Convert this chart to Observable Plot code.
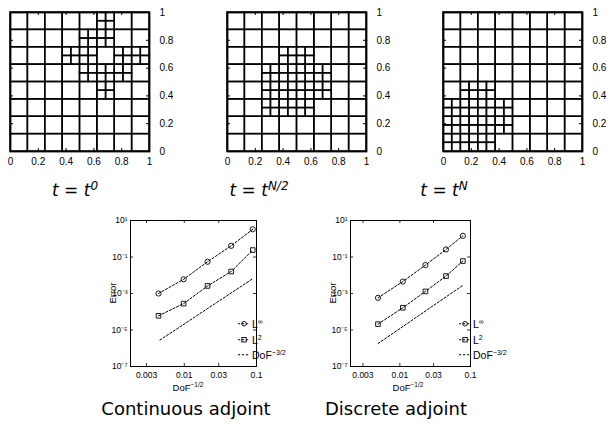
<!DOCTYPE html>
<html><head><meta charset="utf-8">
<script src="https://cdn.jsdelivr.net/npm/d3@7"></script>
<script src="https://cdn.jsdelivr.net/npm/@observablehq/plot@0.6"></script>
<style>
body{margin:0;background:#fff;}
#fig{position:relative;width:609px;height:425px;overflow:hidden;background:#fff;font-family:"Liberation Sans",Arial,sans-serif;color:#000;}
#fig svg{position:absolute;overflow:visible;}
.lbl{position:absolute;white-space:nowrap;line-height:1;transform:translate(-50%,-50%);}
.title{font-family:"DejaVu Sans",sans-serif;font-size:17px;}
.title i{font-style:oblique;}
.title sup{font-size:12px;vertical-align:0.45em;line-height:0;}
.cap{font-family:"DejaVu Sans",sans-serif;font-size:18px;}
.small{font-size:9.5px;}
.small sup{font-size:6.5px;vertical-align:0.6em;line-height:0;}
.leg{position:absolute;white-space:nowrap;font-size:10.5px;line-height:1;display:flex;align-items:center;transform:translateY(-50%);}
.leg sup{font-size:7px;vertical-align:0.6em;line-height:0;}
.leg svg{position:static !important;margin-right:2px;}
</style></head><body><div id="fig"></div><script>
// ---------- data ----------
const meshBase = 8;
const refinedT0 = [[5,7],[4,6],[5,6],[3,5],[4,5],[6,5],[7,5],[4,4],[5,4],[6,4],[5,3]];
const refinedTHalf = [[3,5],[4,5],[2,4],[3,4],[4,4],[5,4],[2,3],[3,3],[4,3],[5,3],[2,2],[3,2],[4,2]];
const refinedTN = [[1,3],[2,3],[0,2],[1,2],[2,2],[3,2],[0,1],[1,1],[2,1],[3,1],[0,0],[1,0],[2,0]];
const gridTicks = [0, 0.2, 0.4, 0.6, 0.8, 1];
const meshTitles = ["0", "N/2", "N"];

const contDof  = [0.0044, 0.0098, 0.021, 0.0446, 0.0887];
const contLinf = [1.0e-3, 6.0e-3, 0.055, 0.41, 3.3];
const contL2   = [6.0e-5, 2.8e-4, 2.6e-3, 0.016, 0.24];
const contRefDof = [0.0046, 0.0887];
const contRef    = [2.8e-6, 6.5e-3];

const discDof  = [0.0049, 0.011, 0.023, 0.045, 0.078];
const discLinf = [5.8e-4, 4.5e-3, 0.036, 0.26, 1.45];
const discL2   = [2.1e-5, 1.65e-4, 1.3e-3, 9.0e-3, 0.06];
const discRefDof = [0.0049, 0.078];
const discRef    = [1.8e-6, 2.8e-3];

const errTicks = [1e1, 1e-1, 1e-3, 1e-5, 1e-7];
const errTickLabels = ["10¹", "10⁻¹", "10⁻³", "10⁻⁵", "10⁻⁷"];
const dofTicks = [0.003, 0.01, 0.03, 0.1];
const dofTickLabels = ["0.003", "0.01", "0.03", "0.1"];
const captions = ["Continuous adjoint", "Discrete adjoint"];

// ---------- helpers ----------
const fig = document.getElementById("fig");
function place(svg, left, top){ svg.style.left = left + "px"; svg.style.top = top + "px"; fig.appendChild(svg); }
function label(html, cls, x, y){ const d = document.createElement("div"); d.className = "lbl " + cls; d.innerHTML = html; d.style.left = x + "px"; d.style.top = y + "px"; fig.appendChild(d); return d; }

function meshCells(refined){
  const set = new Set(refined.map(([i,j]) => i + "," + j));
  const h = 1 / meshBase, cells = [];
  for (let i = 0; i < meshBase; i++) for (let j = 0; j < meshBase; j++) {
    if (set.has(i + "," + j)) {
      for (let a = 0; a < 2; a++) for (let b = 0; b < 2; b++)
        cells.push({x1: i*h + a*h/2, x2: i*h + (a+1)*h/2, y1: j*h + b*h/2, y2: j*h + (b+1)*h/2});
    } else cells.push({x1: i*h, x2: (i+1)*h, y1: j*h, y2: (j+1)*h});
  }
  return cells;
}

function meshPlot(refined, frameLeft, frameTop){
  const W = 139, mL = 10, mT = 12, mR = 40, mB = 22, tk = 3;
  const svg = Plot.plot({
    width: mL + W + mR, height: mT + W + mB,
    marginLeft: mL, marginTop: mT, marginRight: mR, marginBottom: mB,
    x: {domain: [0, 1]}, y: {domain: [0, 1]},
    style: {fontFamily: "Liberation Sans, Arial, sans-serif", fontSize: "10px", background: "transparent"},
    marks: [
      Plot.rect(meshCells(refined), {x1: "x1", x2: "x2", y1: "y1", y2: "y2", stroke: "black", fill: "none", strokeWidth: 1.5}),
      Plot.ruleX(gridTicks, {insetBottom: W - tk, stroke: "black"}),
      Plot.ruleX(gridTicks, {insetTop: W - tk, stroke: "black"}),
      Plot.ruleY(gridTicks, {insetRight: W - tk, stroke: "black"}),
      Plot.ruleY(gridTicks, {insetLeft: W - tk, stroke: "black"}),
      Plot.frame({stroke: "black", strokeWidth: 1.8}),
      Plot.axisX({ticks: gridTicks, tickSize: 0, tickPadding: 6, tickFormat: d => String(d), label: null}),
      Plot.axisY({anchor: "right", ticks: gridTicks, tickSize: 0, tickPadding: 10, tickFormat: d => String(d), label: null})
    ]
  });
  place(svg, frameLeft - mL, frameTop - mT);
}

function errPlot(dof, linf, l2, refDof, ref, xDomain, frameLeft, frameTop, frameW, frameH){
  const mL = 30, mT = 10, mR = 10, mB = 18, tk = 3;
  const rows = (ys) => dof.map((d, i) => ({x: d, y: ys[i]}));
  const refRows = refDof.map((d, i) => ({x: d, y: ref[i]}));
  const dash = "2.2,1.8";
  const svg = Plot.plot({
    width: mL + frameW + mR, height: mT + frameH + mB,
    marginLeft: mL, marginTop: mT, marginRight: mR, marginBottom: mB,
    x: {type: "log", domain: xDomain},
    y: {type: "log", domain: [1e-7, 1e1]},
    style: {fontFamily: "Liberation Sans, Arial, sans-serif", fontSize: "8.5px", background: "transparent"},
    marks: [
      Plot.ruleX(dofTicks, {insetBottom: frameH - tk, stroke: "black", strokeWidth: 0.8}),
      Plot.ruleX(dofTicks, {insetTop: frameH - tk, stroke: "black", strokeWidth: 0.8}),
      Plot.ruleY(errTicks, {insetRight: frameW - tk, stroke: "black", strokeWidth: 0.8}),
      Plot.ruleY(errTicks, {insetLeft: frameW - tk, stroke: "black", strokeWidth: 0.8}),
      Plot.line(rows(linf), {x: "x", y: "y", stroke: "black", strokeWidth: 1, strokeDasharray: dash}),
      Plot.line(rows(l2), {x: "x", y: "y", stroke: "black", strokeWidth: 1, strokeDasharray: dash}),
      Plot.line(refRows, {x: "x", y: "y", stroke: "black", strokeWidth: 1, strokeDasharray: dash}),
      Plot.dot(rows(linf), {x: "x", y: "y", r: 2.6, stroke: "black", fill: "none", strokeWidth: 0.9}),
      Plot.dot(rows(l2), {x: "x", y: "y", symbol: "square", r: 2.6, stroke: "black", fill: "none", strokeWidth: 0.9}),
      Plot.frame({stroke: "black", strokeWidth: 1}),
      Plot.axisX({ticks: dofTicks, tickSize: 0, tickPadding: 5, tickFormat: d => dofTickLabels[dofTicks.indexOf(d)], label: null}),
      Plot.axisY({ticks: errTicks, tickSize: 0, tickPadding: 3, tickFormat: d => errTickLabels[errTicks.indexOf(d)], label: null})
    ]
  });
  place(svg, frameLeft - mL, frameTop - mT);
}

function legend(x, ys){
  const sample = (sym) => {
    let m = "";
    if (sym === "o") m = '<circle cx="6" cy="4" r="2.3" fill="none" stroke="black" stroke-width="0.9"/>';
    if (sym === "s") m = '<rect x="3.8" y="1.8" width="4.4" height="4.4" fill="none" stroke="black" stroke-width="0.9"/>';
    return '<svg width="12" height="8"><line x1="0" y1="4" x2="12" y2="4" stroke="black" stroke-width="1" stroke-dasharray="2.2,1.8"/>' + m + '</svg>';
  };
  const items = [["o", "L<sup>∞</sup>"], ["s", "L<sup>2</sup>"], ["", "DoF<sup>−3/2</sup>"]];
  items.forEach(([s, t], i) => {
    const d = document.createElement("div");
    d.className = "leg"; d.innerHTML = sample(s) + "<span>" + t + "</span>";
    d.style.left = x + "px"; d.style.top = ys[i] + "px";
    fig.appendChild(d);
  });
}

// ---------- meshes ----------
meshPlot(refinedT0, 10, 12);
meshPlot(refinedTHalf, 227, 12);
meshPlot(refinedTN, 443, 12);
const titleX = [75, 259, 444];
meshTitles.forEach((s, i) => label('<i>t</i> = <i>t</i><sup><i>' + s + '</i></sup>', "title", titleX[i], 190));

// ---------- error plots ----------
errPlot(contDof, contLinf, contL2, contRefDof, contRef, [0.0018, 0.1], 130, 220, 126, 146);
errPlot(discDof, discLinf, discL2, discRefDof, discRef, [0.002, 0.1], 350, 220, 120, 146);

[[113, 293], [333, 293]].forEach(([x, y]) => { const d = label("Error", "small", x, y); d.style.transform = "translate(-50%,-50%) rotate(-90deg)"; });
label("DoF<sup>−1/2</sup>", "small", 188, 388);
label("DoF<sup>−1/2</sup>", "small", 408, 388);
legend(238, [324, 340, 355]);
legend(459, [324, 340, 355]);

label(captions[0], "cap", 186, 409);
label(captions[1], "cap", 396, 409);
</script></body></html>
